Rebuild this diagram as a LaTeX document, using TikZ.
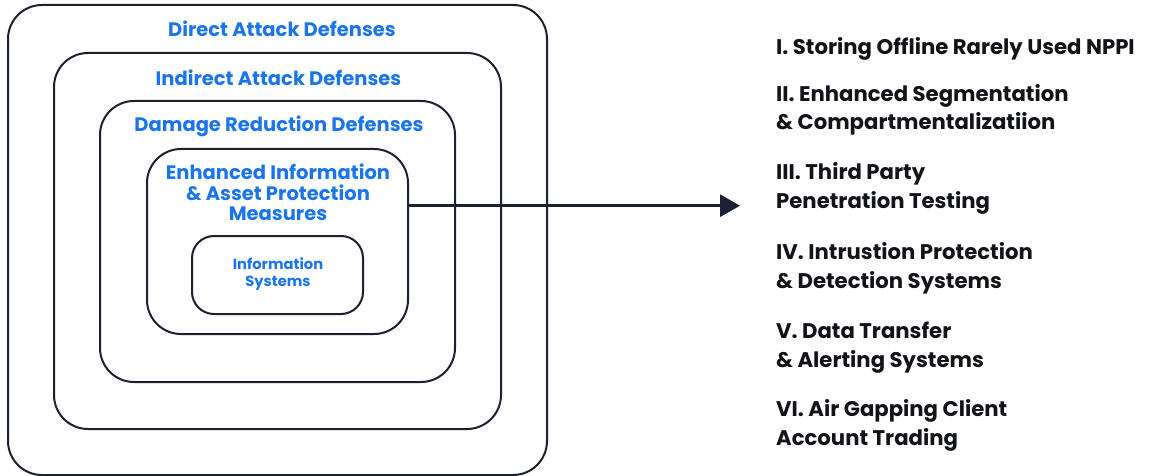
\documentclass[tikz,border=0pt]{standalone}
\usepackage{fontspec}
\setmainfont{Poppins}[UprightFont={* Bold}]
\usetikzlibrary{arrows.meta}
\definecolor{layerblue}{HTML}{1A75EA}
\definecolor{ink}{HTML}{1B2130}
\definecolor{listink}{HTML}{111318}
\begin{document}
\begin{tikzpicture}[x=1pt,y=-1pt,
  layer/.style={draw=ink, line width=2pt, rounded corners=34pt, inner sep=0pt},
  core/.style={layer, rounded corners=22pt},
  title/.style={text=layerblue, font=\fontsize{19.5}{20}\selectfont, align=center, inner sep=0pt, anchor=base},
  smalltitle/.style={text=layerblue, font=\fontsize{14.7}{16.5}\selectfont, align=center, inner sep=0pt, anchor=base},
  item/.style={text=listink, font=\fontsize{21.2}{28.5}\selectfont, align=left, inner sep=0pt, anchor=base west},
  pointer/.style={draw=ink, line width=3pt, -{Triangle[length=20pt,width=22pt]}}
]
\useasboundingbox (0,0) rectangle (1152,476);

% nested defense layers
\node[layer, minimum width=539pt, minimum height=470pt] (direct) at (277.5,240) {};
\node[layer, minimum width=447pt, minimum height=376pt] (indirect) at (277.5,241) {};
\node[layer, minimum width=355pt, minimum height=281pt] (damage) at (277.5,241.5) {};
\node[layer, minimum width=261pt, minimum height=185pt] (enhanced) at (277.5,241.5) {};
\node[core, minimum width=171pt, minimum height=78pt] (infosys) at (277.5,275) {};

% layer titles (base anchor sits on the last line)
\node[title] (tdirect) at (282,37) {Direct Attack Defenses};
\node[title] (tindirect) at (278.5,86) {Indirect Attack Defenses};
\node[title] (tdamage) at (279,132) {Damage Reduction Defenses};
\node[title] (tenhanced) at (278,220) {Enhanced Information\\ \& Asset Protection\\ Measures};
\node[smalltitle] (tinfosys) at (278,286) {Information\\ Systems};

% measures list
\coordinate (tip) at (740,205.7);
\node[item] (m1) at (776,55) {I. Storing Offline Rarely Used NPPI};
\node[item] (m2) at (776,130) {II. Enhanced Segmentation\\ \& Compartmentalizatiion};
\node[item] (m3) at (776,208) {III. Third Party\\ Penetration Testing};
\node[item] (m4) at (776,288) {IV. Intrustion Protection\\ \& Detection Systems};
\node[item] (m5) at (776,367) {V. Data Transfer\\ \& Alerting Systems};
\node[item] (m6) at (776,445) {VI. Air Gapping Client\\ Account Trading};

% pointer from the protection measures to the list
\draw[pointer] (enhanced.east |- tip) -- (tip);
\end{tikzpicture}
\end{document}
